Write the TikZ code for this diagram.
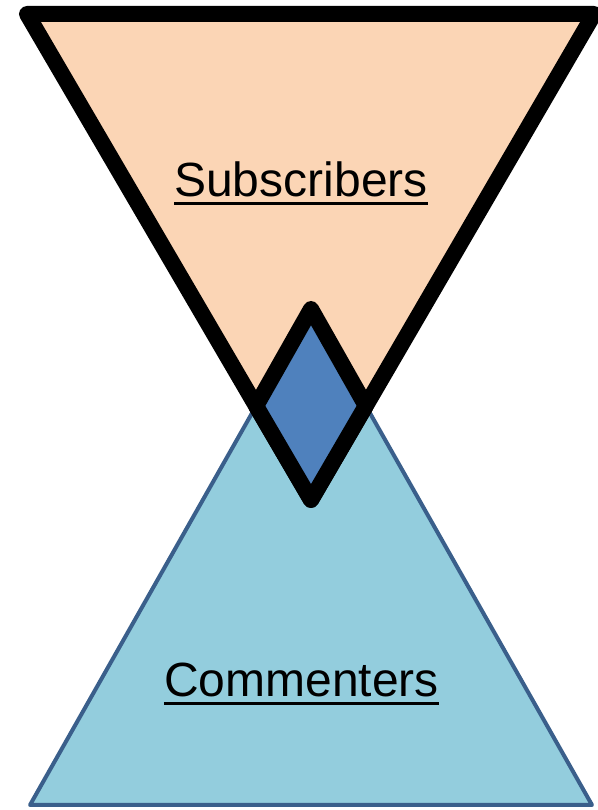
\documentclass[tikz,border=0pt]{standalone}
\usepackage{fontspec}
\setmainfont{Liberation Sans}
\usetikzlibrary{calc}
\definecolor{subpeach}{RGB}{251, 213, 181}
\definecolor{comblue}{RGB}{147, 205, 221}
\definecolor{comedge}{RGB}{58, 95, 139}
\definecolor{bothblue}{RGB}{79, 129, 189}

\tikzset{
    grouplabel/.style={font=\fontsize{48}{58}\selectfont, inner sep=0pt, anchor=base},
    underbar/.style={line width=3.5pt}
}

\begin{document}
\begin{tikzpicture}[x=1pt, y=1pt]
\useasboundingbox (0,0) rectangle (597,810);

% === Triangulo de abajo: comentaristas ===
\coordinate (c1) at (30, 5);
\coordinate (c2) at (592, 5);
\coordinate (c3) at (311, 501);
\filldraw[fill=comblue, draw=comedge, line width=4pt, line join=round] (c1) -- (c2) -- (c3) -- cycle;

% === Triangulo de arriba: suscriptores ===
\coordinate (s1) at (27, 796);
\coordinate (s2) at (594, 796);
\coordinate (s3) at (311, 310);
\filldraw[fill=subpeach, draw=black, line width=16pt, line join=round] (s1) -- (s2) -- (s3) -- cycle;

% Interseccion (rombo)
\coordinate (dl) at (intersection of s1--s3 and c1--c3);
\coordinate (dr) at (intersection of s2--s3 and c2--c3);
\filldraw[fill=bothblue, draw=black, line width=16pt, line join=round] (c3) -- (dl) -- (s3) -- (dr) -- cycle;

% Etiquetas
\node[grouplabel] (sub) at (301, 613) {Subscribers};
\draw[underbar] ([yshift=-6.5pt]sub.base west) -- ([yshift=-6.5pt]sub.base east);

\node[grouplabel] (com) at (301.5, 113) {Commenters};
\draw[underbar] ([yshift=-6.5pt]com.base west) -- ([yshift=-6.5pt]com.base east);

\end{tikzpicture}
\end{document}
